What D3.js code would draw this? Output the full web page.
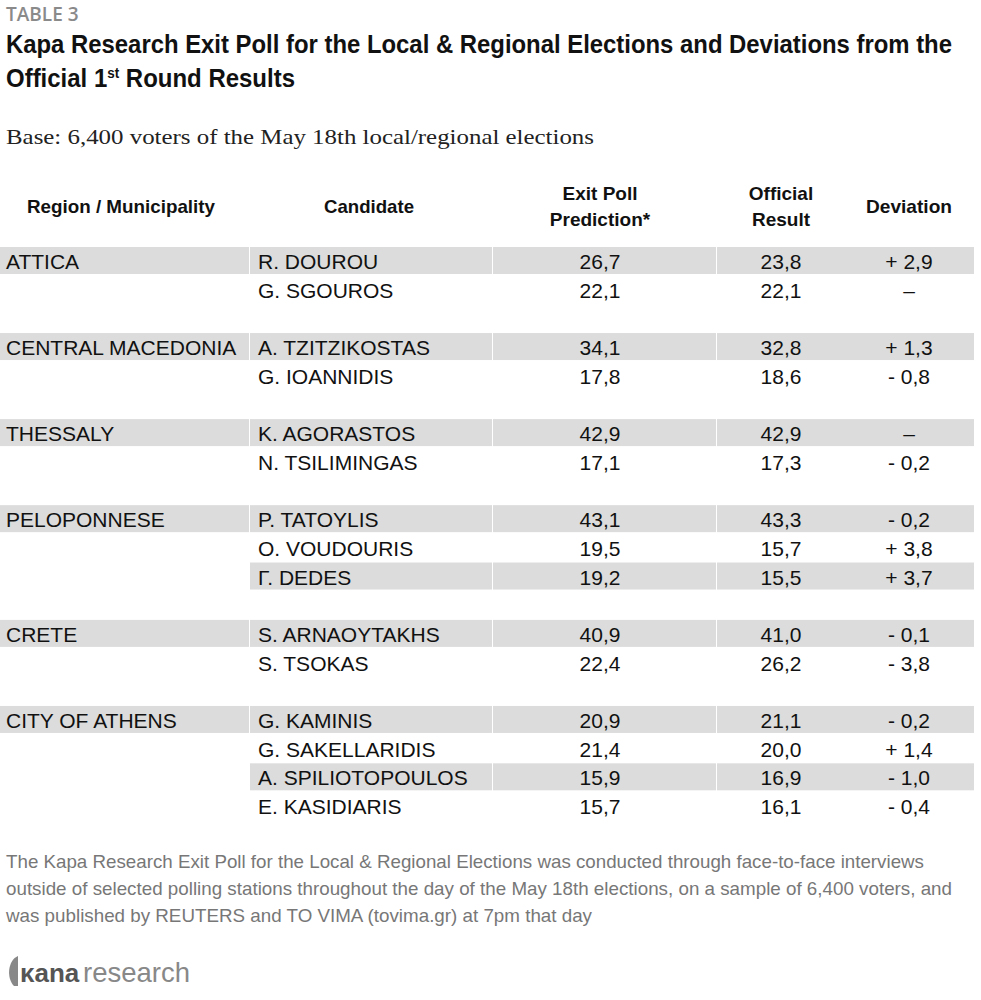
<!DOCTYPE html>
<html><head><meta charset="utf-8">
<script src="https://cdn.jsdelivr.net/npm/d3@7"></script>
<style>body{margin:0;background:#fff}</style></head>
<body><svg id="c" width="981" height="1000"></svg>
<script>
const regions = ["ATTICA","CENTRAL MACEDONIA","THESSALY","PELOPONNESE","CRETE","CITY OF ATHENS"];
const candidates = [
 ["R. DOUROU","G. SGOUROS"],
 ["A. TZITZIKOSTAS","G. IOANNIDIS"],
 ["K. AGORASTOS","N. TSILIMINGAS"],
 ["P. TATOYLIS","O. VOUDOURIS","Γ. DEDES"],
 ["S. ARNAOYTAKHS","S. TSOKAS"],
 ["G. KAMINIS","G. SAKELLARIDIS","A. SPILIOTOPOULOS","E. KASIDIARIS"]];
const exitPoll = [[26.7,22.1],[34.1,17.8],[42.9,17.1],[43.1,19.5,19.2],[40.9,22.4],[20.9,21.4,15.9,15.7]];
const official = [[23.8,22.1],[32.8,18.6],[42.9,17.3],[43.3,15.7,15.5],[41.0,26.2],[21.1,20.0,16.9,16.1]];
const deviation = [["+ 2,9","–"],["+ 1,3","- 0,8"],["–","- 0,2"],["- 0,2","+ 3,8","+ 3,7"],["- 0,1","- 3,8"],["- 0,2","+ 1,4","- 1,0","- 0,4"]];

const svg = d3.select("#c");
const F = "'Liberation Sans', Arial, sans-serif";
const fmt = v => v.toFixed(1).replace(".", ",");

svg.append("text").attr("x",6).attr("y",21).attr("font-family","'Open Sans',sans-serif").attr("font-weight",600)
  .attr("font-size",19).attr("fill","#8a8a8a").text("TABLE 3");
const t = svg.append("g").attr("font-family",F).attr("font-weight","bold").attr("font-size",25).attr("fill","#111");
t.append("text").attr("x",6).attr("y",53).attr("textLength",946).attr("lengthAdjust","spacingAndGlyphs")
 .text("Kapa Research Exit Poll for the Local & Regional Elections and Deviations from the");
const t2 = t.append("text").attr("x",6).attr("y",87).attr("textLength",289).attr("lengthAdjust","spacingAndGlyphs");
t2.append("tspan").text("Official 1");
t2.append("tspan").attr("font-size",14).attr("dy",-9).text("st");
t2.append("tspan").attr("dy",9).text(" Round Results");

svg.append("text").attr("x",6).attr("y",144).attr("font-family","'Liberation Serif',serif").attr("font-size",21)
 .attr("fill","#222").attr("textLength",588).attr("lengthAdjust","spacingAndGlyphs")
 .text("Base: 6,400 voters of the May 18th local/regional elections");

const hd = svg.append("g").attr("font-family",F).attr("font-weight","bold").attr("font-size",19).attr("fill","#111").attr("text-anchor","middle");
[[121,["Region / Municipality"],188],[369,["Candidate"],90],[600,["Exit Poll","Prediction*"],100],[781,["Official","Result"],64],[909,["Deviation"],86]]
.forEach(([x,lines,w])=>{
  const y0 = lines.length===1?213:200;
  lines.forEach((l,i)=>{const e=hd.append("text").attr("x",x).attr("y",y0+i*26).text(l);
    if(i===0&&lines.length===1) e.attr("textLength",w).attr("lengthAdjust","spacingAndGlyphs");});
});

const rows=[]; let r=0;
regions.forEach((reg,g)=>{candidates[g].forEach((c,i)=>{
  rows.push({reg:i===0?reg:"",cand:c,ep:exitPoll[g][i],of:official[g][i],dv:deviation[g][i],slot:r+g,shade:i%2===0,first:i===0});
  r++;});});
const y = d3.scaleLinear().domain([0,19]).range([261,806]);
const cols=[[0,249],[250,492],[493,716],[717,974]];
const body = svg.append("g");
rows.forEach(d=>{
  const cy=y(d.slot);
  if(d.shade){
    cols.forEach(([a,b],ci)=>{ if(ci===0 && !d.first) return;
      body.append("rect").attr("x",a).attr("y",cy-14).attr("width",b-a).attr("height",27).attr("fill","#dcdcdc");});
  }
  const g=body.append("g").attr("font-family",F).attr("font-size",21).attr("fill","#111");
  g.append("text").attr("x",6).attr("y",cy+8).text(d.reg);
  g.append("text").attr("x",258).attr("y",cy+8).text(d.cand);
  g.append("text").attr("x",600).attr("y",cy+8).attr("text-anchor","middle").text(fmt(d.ep));
  g.append("text").attr("x",781).attr("y",cy+8).attr("text-anchor","middle").text(fmt(d.of));
  g.append("text").attr("x",909).attr("y",cy+8).attr("text-anchor","middle").text(d.dv);
});

const note=["The Kapa Research Exit Poll for the Local & Regional Elections was conducted through face-to-face interviews",
"outside of selected polling stations throughout the day of the May 18th elections, on a sample of 6,400 voters, and",
"was published by REUTERS and TO VIMA (tovima.gr) at 7pm that day"];
const nl=[918,946,586];
note.forEach((l,i)=>{const e=svg.append("text").attr("x",6).attr("y",868+i*27).attr("font-family",F).attr("font-size",19).attr("fill","#777").text(l);
 e.attr("textLength",nl[i]).attr("lengthAdjust","spacingAndGlyphs");});

const lg=svg.append("g");
lg.append("path").attr("d","M18,956 C8,960 6,978 14,986 L18,986 Z").attr("fill","#888");
lg.append("text").attr("x",20).attr("y",982).attr("font-family",F).attr("font-weight","bold").attr("font-size",26).attr("fill","#555").text("κana");
lg.append("text").attr("x",83).attr("y",982).attr("font-family",F).attr("font-size",28).attr("fill","#888").attr("textLength",107).attr("lengthAdjust","spacingAndGlyphs").text("research");
</script></body></html>
